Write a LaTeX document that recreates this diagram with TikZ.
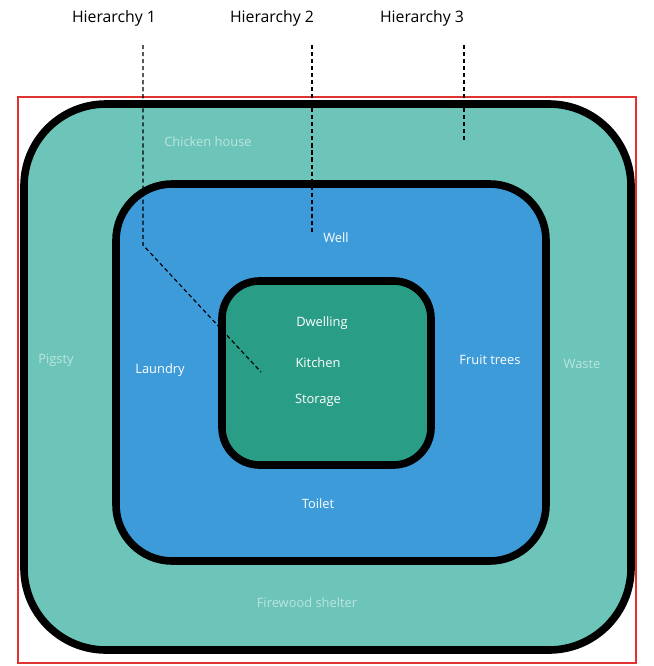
\documentclass[tikz,border=0pt]{standalone}
\usepackage{fontspec}
\setmainfont{Open Sans}
\usepackage{tikz}
\usetikzlibrary{positioning, calc}
\definecolor{zoneouter}{HTML}{6CC5B8}
\definecolor{zonemid}{HTML}{3D9BDA}
\definecolor{zoneinner}{HTML}{2A9D86}
\definecolor{frame}{HTML}{E0322E}
\begin{document}
\begin{tikzpicture}[x=0.03cm, y=-0.03cm,
    zone/.style={draw=black, line width=6.5pt},
    lbl/.style={font=\fontsize{11}{13}\selectfont, text=white},
    faint/.style={font=\fontsize{11}{13}\selectfont, text=white, opacity=0.55},
    head/.style={font=\fontsize{13.5}{16}\selectfont, text=black},
    guide/.style={draw=black, dash pattern=on 3.5pt off 2.5pt, line width=1pt}]
  \useasboundingbox (0,0) rectangle (654,666);
  % zones
  \draw[zone, fill=zoneouter, rounded corners=70] (24,104) rectangle (631,650);
  \draw[zone, fill=zonemid, rounded corners=48] (116,184) rectangle (546,561);
  \draw[zone, fill=zoneinner, rounded corners=32] (222,281) rectangle (431,465);
  \draw[frame, line width=1.7pt] (18,97) rectangle (636,663);
  % headings
  \node[head] (h1) at (114,18) {Hierarchy 1};
  \node[head] (h2) at (272,18) {Hierarchy 2};
  \node[head] (h3) at (422,18) {Hierarchy 3};
  % labels
  \node[faint] (chicken) at (208,142) {Chicken house};
  \node[faint] (pigsty) at (56,360) {Pigsty};
  \node[faint] (waste) at (582,364) {Waste};
  \node[faint] (firewood) at (307,603) {Firewood shelter};
  \node[lbl] (well) at (336,238) {Well};
  \node[lbl] (laundry) at (160,370) {Laundry};
  \node[lbl] (fruit) at (490,360) {Fruit trees};
  \node[lbl] (toilet) at (318,504) {Toilet};
  \node[lbl] (dwelling) at (322,323) {Dwelling};
  \node[lbl] (kitchen) at (318,363) {Kitchen};
  \node[lbl] (storage) at (318,400) {Storage};
  % guides
  \coordinate (g1a) at (143,45);
  \coordinate (g1b) at (143,245);
  \coordinate (g1c) at (261,372);
  \coordinate (g2a) at (312,45);
  \coordinate (g2b) at (312,232);
  \coordinate (g3a) at (464,45);
  \coordinate (g3b) at (464,142);
  \draw[guide] (g1a) -- (g1b) -- (g1c);
  \draw[guide] (g2a) -- (g2b);
  \draw[guide] (g3a) -- (g3b);
\end{tikzpicture}
\end{document}
